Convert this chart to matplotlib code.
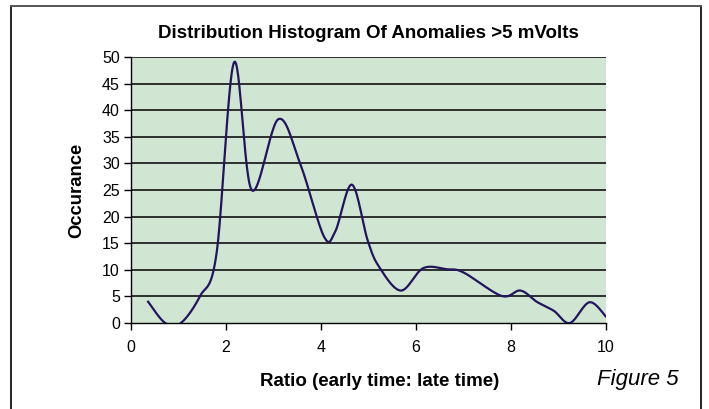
import numpy as np
import matplotlib
matplotlib.use('Agg')
import matplotlib.pyplot as plt

# --- Data ---
ratio = [0.36, 0.72, 1.05, 1.45, 1.8, 2.17, 2.54, 3.1, 3.56, 4.06, 4.3, 4.65,
         4.98, 5.22, 5.68, 6.15, 6.65, 7.0, 7.8, 8.2, 8.54, 8.9, 9.24, 9.65, 10.0]
occurance = [4, 0, 0, 5, 13, 49, 25, 38.3, 30, 16.3, 17.2, 26,
             15.6, 10.6, 6.1, 10.3, 10.1, 9.5, 5.1, 6.1, 4.0, 2.3, 0, 3.9, 1.2]
x_ticks = [0, 2, 4, 6, 8, 10]
y_ticks = list(range(0, 51, 5))


# Excel-style smoothed line (Catmull-Rom through the points, drawn as cubic Beziers)
def smooth(xs, ys, n=30):
    p = np.column_stack([xs, ys]).astype(float)
    p = np.vstack([p[0], p, p[-1]])
    out = []
    t = np.linspace(0, 1, n)[:, None]
    for i in range(1, len(p) - 2):
        p0, p1, p2, p3 = p[i - 1], p[i], p[i + 1], p[i + 2]
        b1 = p1 + (p2 - p0) / 6
        b2 = p2 - (p3 - p1) / 6
        seg = ((1 - t) ** 3) * p1 + 3 * ((1 - t) ** 2) * t * b1 + 3 * (1 - t) * t ** 2 * b2 + t ** 3 * p2
        out.append(seg if i == 1 else seg[1:])
    seg = np.vstack(out)
    return seg[:, 0], seg[:, 1]


sx, sy = smooth(ratio, occurance)

plt.rcParams['font.family'] = ['Liberation Sans', 'DejaVu Sans']

fig = plt.figure(figsize=(7.09, 4.09), dpi=100)
ax = fig.add_axes([131 / 709, 1 - 323 / 409, 475 / 709, 266 / 409])
ax.set_facecolor('#d0e6d2')

ax.plot(sx, sy, color='#23145e', lw=1.6, zorder=3)

ax.set_xlim(0, 10)
ax.set_ylim(0, 50)
ax.set_xticks(x_ticks)
ax.set_yticks(y_ticks)
ax.tick_params(axis='both', labelsize=11.5, length=5, width=1, color='black')
ax.tick_params(axis='x', pad=7)
ax.tick_params(axis='y', pad=3)

for y in y_ticks[1:]:
    ax.axhline(y, color='black', lw=1.1, zorder=2)

for side in ['top', 'right']:
    ax.spines[side].set_visible(False)
ax.spines['left'].set_linewidth(1)
ax.spines['bottom'].set_linewidth(1)

fig.text(368.5 / 709, 1 - 34 / 409, 'Distribution Histogram Of Anomalies >5 mVolts',
         fontsize=13.5, fontweight='bold', ha='center', va='center')
ax.set_xlabel('Ratio (early time: late time)', fontsize=13.5, fontweight='bold', va='center')
ax.xaxis.set_label_coords((380 - 131) / 475, (323 - 381) / 266)
ax.set_ylabel('Occurance', fontsize=13.3, fontweight='bold', va='center')
ax.yaxis.set_label_coords((77 - 131) / 475, 0.5)

fig.text(638 / 709, 1 - 379 / 409, 'Figure 5', fontsize=16, style='italic',
         ha='center', va='center')

# outer frame (open at the bottom)
fig.add_artist(plt.Line2D([11 / 709, 11 / 709], [0, 1 - 6 / 409], transform=fig.transFigure,
                          color='black', lw=1.2))
fig.add_artist(plt.Line2D([701 / 709, 701 / 709], [0, 1 - 6 / 409], transform=fig.transFigure,
                          color='black', lw=1.2))
fig.add_artist(plt.Line2D([11 / 709, 701 / 709], [1 - 6 / 409, 1 - 6 / 409], transform=fig.transFigure,
                          color='#555555', lw=1.4))

fig.savefig('out.png', dpi=100)
